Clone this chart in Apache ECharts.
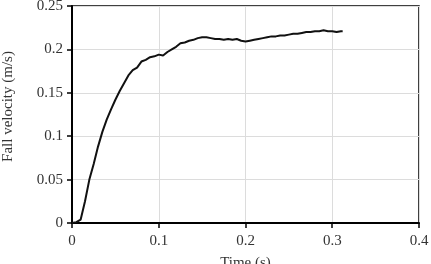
<!DOCTYPE html>
<html>
<head>
<meta charset="utf-8">
<script src="https://cdn.jsdelivr.net/npm/echarts@6/dist/echarts.min.js"></script>
<style>
  html, body { margin: 0; padding: 0; background: #fff; }
  #chart { width: 431px; height: 264px; }
</style>
</head>
<body>
<div id="chart"></div>
<script>
// time (s) and fall velocity (m/s)
const times = [
  0, 0.005, 0.010, 0.015, 0.020, 0.025, 0.030, 0.035, 0.040, 0.045,
  0.050, 0.055, 0.060, 0.065, 0.070, 0.075, 0.080, 0.085, 0.090, 0.095,
  0.100, 0.105, 0.110, 0.115, 0.120, 0.125, 0.130, 0.135, 0.140, 0.145,
  0.150, 0.155, 0.160, 0.165, 0.170, 0.175, 0.180, 0.185, 0.190, 0.195,
  0.200, 0.205, 0.210, 0.215, 0.220, 0.225, 0.230, 0.235, 0.240, 0.245,
  0.250, 0.255, 0.260, 0.265, 0.270, 0.275, 0.280, 0.285, 0.290, 0.295,
  0.300, 0.305, 0.310, 0.312
]
const velocity = [
  0, 0.001, 0.004, 0.025, 0.050, 0.068, 0.088, 0.105, 0.119, 0.131,
  0.142, 0.152, 0.161, 0.170, 0.176, 0.179, 0.186, 0.188, 0.191, 0.192,
  0.194, 0.193, 0.197, 0.200, 0.203, 0.207, 0.208, 0.210, 0.211, 0.213,
  0.214, 0.214, 0.213, 0.212, 0.212, 0.211, 0.212, 0.211, 0.212, 0.210,
  0.209, 0.210, 0.211, 0.212, 0.213, 0.214, 0.215, 0.215, 0.216, 0.216,
  0.217, 0.218, 0.218, 0.219, 0.220, 0.220, 0.221, 0.221, 0.222, 0.221,
  0.221, 0.220, 0.221, 0.221
]

const FONT = 'Liberation Serif'
const TEXT = '#333'
const chart = echarts.init(document.getElementById('chart'), null, { renderer: 'canvas' })

chart.setOption({
  animation: false,
  grid: {
    left: 72, right: 12, top: 6, bottom: 41,
    outerBoundsMode: 'none',
    show: true, borderColor: '#000', borderWidth: 1.5,
  },
  xAxis: {
    type: 'value',
    min: 0, max: 0.4, interval: 0.1,
    name: 'Time (s)',
    nameLocation: 'middle',
    nameGap: 33,
    nameTextStyle: { fontFamily: FONT, fontSize: 15, color: TEXT },
    axisLine: { lineStyle: { color: '#000', width: 2 } },
    axisTick: { length: 5, lineStyle: { color: '#000', width: 1.5 } },
    axisLabel: { fontFamily: FONT, fontSize: 15, color: TEXT, margin: 11 },
    splitLine: { lineStyle: { color: '#dcdcdc', width: 1 } },
  },
  yAxis: {
    type: 'value',
    min: 0, max: 0.25, interval: 0.05,
    name: 'Fall velocity (m/s)',
    nameLocation: 'middle',
    nameGap: 56,
    nameRotate: 90,
    // nudge the title a little above the axis centre, as in the original
    nameTextStyle: { fontFamily: FONT, fontSize: 15, color: TEXT, padding: [0, 0, 0, 16] },
    axisLine: { show: true, lineStyle: { color: '#000', width: 2 } },
    axisTick: { show: true, length: 5, lineStyle: { color: '#000', width: 1.5 } },
    axisLabel: { fontFamily: FONT, fontSize: 15, color: TEXT, margin: 9 },
    splitLine: { lineStyle: { color: '#dcdcdc', width: 1 } },
  },
  series: [
    {
      type: 'line',
      data: times.map((t, i) => [t, velocity[i]]),
      symbol: 'none',
      lineStyle: { color: '#111', width: 2 },
    },
  ],
})
</script>
</body>
</html>
